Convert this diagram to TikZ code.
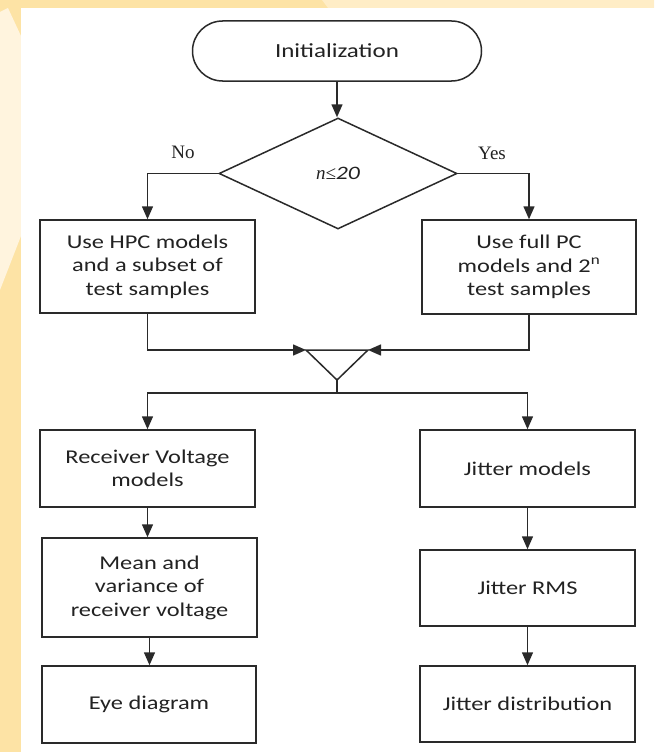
\documentclass[tikz,border=0pt]{standalone}
\usepackage{fontspec}
\setmainfont[FakeStretch=1.25]{Carlito}
\newfontfamily\lblfont{Liberation Serif}
\usetikzlibrary{shapes.geometric,arrows.meta}
\definecolor{bgyel}{HTML}{FDE3A5}
\definecolor{bgcream}{HTML}{FFF4DE}
\definecolor{bgtop}{HTML}{FFEDC6}
\definecolor{ln}{HTML}{2A2A2A}
\definecolor{txt}{HTML}{222222}

\begin{document}
\begin{tikzpicture}[x=1pt,y=-1pt,
  box/.style n args={2}{draw=ln,line width=1.5pt,rectangle,minimum width=#1pt,minimum height=#2pt,inner sep=0pt,align=center,text=txt,font=\fontsize{19.5}{23.5}\selectfont},
  term/.style={draw=ln,line width=1.5pt,rectangle,rounded corners=30pt,minimum width=289pt,minimum height=60pt,text=txt,font=\fontsize{20}{24}\selectfont},
  dec/.style={draw=ln,line width=1.5pt,diamond,minimum width=238pt,minimum height=111pt,inner sep=0pt,text=txt,font=\fontsize{19}{22}\selectfont},
  lbl/.style={text=txt,font=\lblfont\fontsize{19}{22}\selectfont},
  arr/.style={draw=ln,line width=1.5pt,-{Triangle[length=13pt,width=11pt]}}]
\useasboundingbox (0,0) rectangle (654,752);
% background
\fill[bgyel] (0,0) rectangle (654,752);
\fill[bgtop] (322,0) -- (654,0) -- (654,8) -- (328,8) -- cycle;
\fill[bgcream] (0,12) -- (8,8) -- (21,36) -- (21,236) -- (0,290) -- cycle;
\fill[white] (21,8) rectangle (654,752);

% flow chart
\node[term] (init) at (337,51) {Initialization};
\node[dec] (cond) at (338,173.5) {\lblfont\itshape n≤\rmfamily\itshape 20};
\node[lbl] (no) at (183,152) {No};
\node[lbl] (yes) at (492,153) {Yes};
\node[box={215}{93}] (hpc) at (147.5,266.5) {Use HPC models\\and a subset of\\test samples};
\node[box={214}{94}] (fpc) at (529,267) {Use full PC\\models and 2\textsuperscript{n}\\test samples};
\coordinate (mL) at (306,350);
\coordinate (mR) at (368,350);
\coordinate (mB) at (337,380);
\coordinate (split) at (337,393);
\node[box={215}{77}] (rv) at (147.5,468.5) {Receiver Voltage\\models};
\node[box={215}{99}] (mv) at (149.5,587.5) {Mean and\\variance of\\receiver voltage};
\node[box={214}{77}] (eye) at (149,704.5) {Eye diagram};
\node[box={215}{77}] (jm) at (527.5,468.5) {Jitter models};
\node[box={215}{76}] (jr) at (527.5,588) {Jitter RMS};
\node[box={215}{76}] (jd) at (527.5,704) {Jitter distribution};

\draw[arr] (init.south) -- (init.south |- cond.north);
\draw[arr] (cond.west) -| (hpc.north);
\draw[arr] (cond.east) -| (fpc.north);
\draw[arr] (hpc.south) |- (mL);
\draw[arr] (fpc.south) |- (mR);
\draw[draw=ln,line width=1.5pt,line join=miter] (mL) -- (mR) -- (mB) -- cycle;
\draw[draw=ln,line width=1.5pt] (mB) -- (split);
\draw[arr] (split) -| (rv.north);
\draw[arr] (split) -| (jm.north);
\draw[arr] (rv.south) -- (rv.south |- mv.north);
\draw[arr] (mv.south) -- (mv.south |- eye.north);
\draw[arr] (jm.south) -- (jm.south |- jr.north);
\draw[arr] (jr.south) -- (jr.south |- jd.north);
\end{tikzpicture}
\end{document}
